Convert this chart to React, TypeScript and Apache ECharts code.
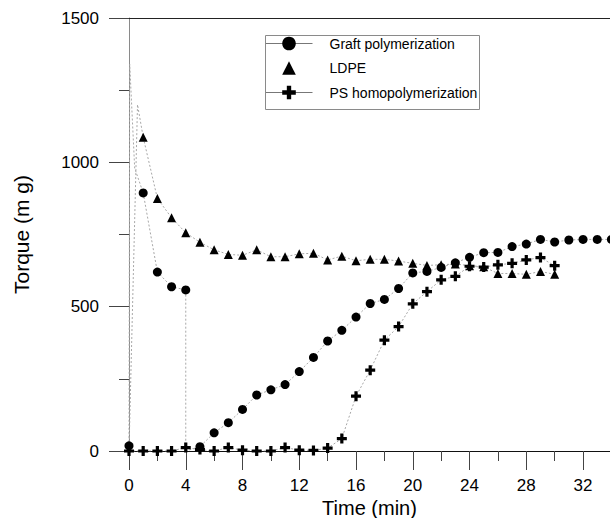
import React, { useEffect, useRef } from "react";
import * as echarts from "echarts";

// Time (min) and torque (m g) values
const graftTimes = [0, 0.05, 0.4, 1, 2, 3, 4, 4, 5, 6, 7, 8, 9, 10, 11, 12, 13, 14, 15, 16, 17, 18, 19, 20, 21, 22, 23, 24, 25, 26, 27, 28, 29, 30, 31, 32, 33, 34];
const graftTorque = [18, 1340, 980, 894, 620, 569, 558, 0, 15, 63, 98, 144, 194, 212, 230, 275, 324, 381, 418, 464, 511, 525, 563, 617, 622, 636, 652, 671, 687, 688, 708, 717, 733, 724, 731, 733, 733, 733];
const graftHidden = [1, 2, 7]; // indices of trace-only points (no marker)

const ldpeTimes = [0, 0.6, 1, 2, 3, 4, 5, 6, 7, 8, 9, 10, 11, 12, 13, 14, 15, 16, 17, 18, 19, 20, 21, 22, 23, 24, 25, 26, 27, 28, 29, 30];
const ldpeTorque = [0, 1200, 1087, 875, 808, 756, 723, 697, 681, 678, 697, 673, 673, 683, 685, 662, 675, 659, 664, 664, 658, 650, 643, 645, 648, 642, 638, 615, 615, 612, 622, 612];
const ldpeHidden = [0, 1];

const psTimes = [0, 1, 2, 3, 4, 5, 6, 7, 8, 9, 10, 11, 12, 13, 14, 15, 16, 17, 18, 19, 20, 21, 22, 23, 24, 25, 26, 27, 28, 29, 30];
const psTorque = [0, 0, 0, 0, 12, 5, 0, 12, 3, 0, 0, 12, 3, 2, 10, 43, 190, 280, 384, 431, 510, 552, 593, 605, 640, 637, 645, 650, 662, 670, 642];

const seriesNames = ["Graft polymerization", "LDPE", "PS homopolymerization"];
const xTicks = { min: 0, max: 33.9, interval: 4 };
const yTicks = { min: 0, max: 1500, interval: 500 };

const FONT = "'Liberation Sans', Arial, Helvetica, sans-serif";
const CROSS = "path://M3.4,0H6.6V3.4H10V6.6H6.6V10H3.4V6.6H0V3.4H3.4Z";

function build(times: number[], vals: number[], hidden: number[]) {
  return times.map((t, i) =>
    hidden.includes(i) ? { value: [t, vals[i]], symbol: "none" } : { value: [t, vals[i]] }
  );
}

export default function App() {
  const ref = useRef<HTMLDivElement>(null);
  useEffect(() => {
    if (!ref.current) return;
    const chart = echarts.init(ref.current, null, { renderer: "svg" });
    const lineStyle = { color: "#a8a8a8", width: 1, type: [2, 2] as any };
    chart.setOption({
      animation: false,
      backgroundColor: "#fff",
      textStyle: { fontFamily: FONT },
      grid: { left: 129, right: 0, top: 18, bottom: 67, containLabel: false, outerBoundsMode: "none" },
      graphic: [
        {
          type: "rect",
          shape: { x: 265.5, y: 35.5, width: 214, height: 74 },
          style: { fill: "none", stroke: "#8a8a8a", lineWidth: 1 },
          z: 10,
        },
      ],
      legend: {
        orient: "vertical",
        left: 265,
        top: 36.5,
        padding: 0,
        itemWidth: 47,
        itemHeight: 17,
        itemGap: 10.5,
        textStyle: { fontSize: 14, color: "#000", fontFamily: FONT, padding: [0, 0, 0, 12] },
        lineStyle: { color: "#777", width: 1, type: "solid" },
        data: [
          { name: seriesNames[0] },
          { name: seriesNames[1], lineStyle: { opacity: 0 } },
          { name: seriesNames[2] },
        ],
      },
      xAxis: [
        {
          type: "value",
          min: xTicks.min,
          max: xTicks.max,
          interval: xTicks.interval,
          name: "Time (min)",
          nameLocation: "middle",
          nameGap: 46,
          nameMoveOverlap: false,
          nameTextStyle: { fontSize: 20, lineHeight: 21, color: "#000", fontFamily: FONT },
          axisLine: { onZero: false, lineStyle: { color: "#111", width: 1.2 } },
          axisTick: { show: true, inside: false, length: 19, lineStyle: { color: "#444", width: 1 } },
          minorTick: { show: true, splitNumber: 2, length: 10, lineStyle: { color: "#444", width: 1 } },
          axisLabel: { fontSize: 17, color: "#000", margin: 26, showMaxLabel: false, fontFamily: FONT, formatter: (v: number) => String(v) },
          splitLine: { show: false },
        },
        {
          type: "value",
          position: "top",
          min: xTicks.min,
          max: xTicks.max,
          axisLine: { show: true, onZero: false, lineStyle: { color: "#222", width: 1.2 } },
          axisTick: { show: false },
          axisLabel: { show: false },
          splitLine: { show: false },
        },
      ],
      yAxis: {
        type: "value",
        min: yTicks.min,
        max: yTicks.max,
        interval: yTicks.interval,
        name: "Torque (m g)",
        nameLocation: "middle",
        nameGap: 97,
        nameMoveOverlap: false,
        nameTextStyle: { fontSize: 21, color: "#000", fontFamily: FONT },
        axisLine: { show: true, onZero: false, lineStyle: { color: "#8a8a8a", width: 1 } },
        axisTick: { show: true, inside: false, length: 20, lineStyle: { color: "#444", width: 1 } },
        minorTick: { show: true, splitNumber: 2, length: 10, lineStyle: { color: "#444", width: 1 } },
        axisLabel: { fontSize: 17, color: "#000", margin: 30, fontFamily: FONT, formatter: (v: number) => String(v) },
        splitLine: { show: false },
      },
      series: [
        {
          name: seriesNames[0],
          type: "line",
          data: build(graftTimes, graftTorque, graftHidden),
          symbol: "circle",
          symbolSize: 9,
          showAllSymbol: true,
          clip: false,
          itemStyle: { color: "#000" },
          lineStyle,
          emphasis: { disabled: true },
          z: 3,
        },
        {
          name: seriesNames[1],
          type: "line",
          data: build(ldpeTimes, ldpeTorque, ldpeHidden),
          symbol: "triangle",
          symbolSize: 9,
          showAllSymbol: true,
          itemStyle: { color: "#000" },
          lineStyle,
          emphasis: { disabled: true },
          z: 3,
        },
        {
          name: seriesNames[2],
          type: "line",
          data: build(psTimes, psTorque, []),
          symbol: CROSS,
          symbolSize: 10,
          showAllSymbol: true,
          itemStyle: { color: "#000" },
          lineStyle,
          emphasis: { disabled: true },
          z: 4,
        },
      ],
    });
    return () => chart.dispose();
  }, []);
  return <div ref={ref} style={{ width: 610, height: 518, position: "absolute", left: 0, top: 0 }} />;
}
